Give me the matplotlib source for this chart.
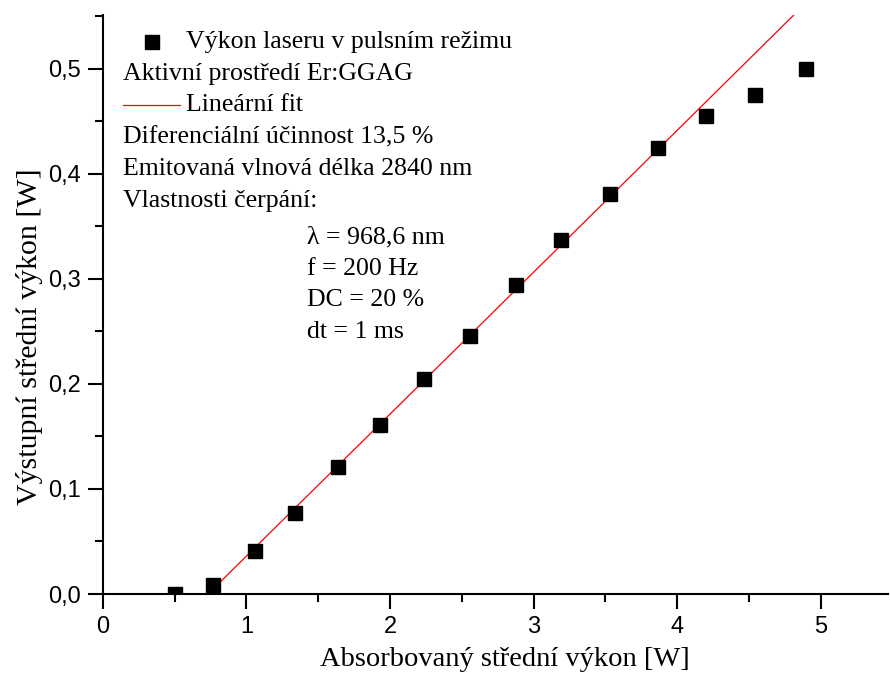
import matplotlib
matplotlib.use("Agg")
import matplotlib.pyplot as plt
from matplotlib.lines import Line2D
from matplotlib.ticker import MultipleLocator, FuncFormatter

# measured points: absorbed mean power vs. output mean power
absorbed = [0.50, 0.77, 1.06, 1.34, 1.64, 1.93, 2.24, 2.56, 2.88, 3.19, 3.53, 3.87, 4.20, 4.54, 4.90]
output = [0.000, 0.009, 0.041, 0.077, 0.121, 0.161, 0.205, 0.246, 0.294, 0.337, 0.381, 0.424, 0.455, 0.475, 0.500]

# linear fit: slope = differential efficiency, threshold where it crosses zero
slope = 0.135
threshold = 0.732
fit_x = [threshold, 5.0]
fit_y = [slope * (x - threshold) for x in fit_x]

info_lines = ["Aktivní prostředí Er:GGAG", "Diferenciální účinnost 13,5 %",
              "Emitovaná vlnová délka 2840 nm", "Vlastnosti čerpání:"]
pump_lines = ["λ = 968,6 nm", "f = 200 Hz", "DC = 20 %", "dt = 1 ms"]

serif = "Liberation Serif"
sans = "Liberation Sans"

fig = plt.figure(figsize=(8.9, 6.82), dpi=100)
ax = fig.add_axes([0.1157, 0.129, 0.8821, 0.849])

ax.plot(fit_x, fit_y, color="red", lw=0.9, zorder=2)
ax.plot(absorbed, output, ls="none", marker="s", ms=10, color="black", zorder=3)

ax.set_xlim(0, 5.47)
ax.set_ylim(0, 0.551)
ax.xaxis.set_major_locator(MultipleLocator(1))
ax.xaxis.set_minor_locator(MultipleLocator(0.5))
ax.yaxis.set_major_locator(MultipleLocator(0.1))
ax.yaxis.set_minor_locator(MultipleLocator(0.05))
ax.xaxis.set_major_formatter(FuncFormatter(lambda v, p: f"{v:.0f}"))
ax.yaxis.set_major_formatter(FuncFormatter(lambda v, p: f"{v:.1f}".replace(".", ",")))

for side in ["top", "right"]:
    ax.spines[side].set_visible(False)
for side in ["left", "bottom"]:
    ax.spines[side].set_linewidth(1.5)
ax.tick_params(which="major", direction="out", length=11, width=1.5, labelsize=17, pad=5)
ax.tick_params(which="minor", direction="out", length=6, width=1.5)
for lab in ax.get_xticklabels() + ax.get_yticklabels():
    lab.set_fontfamily(sans)

ax.set_xlabel("Absorbovaný střední výkon [W]", fontfamily=serif, fontsize=20.5)
ax.set_ylabel("Výstupní střední výkon [W]", fontfamily=serif, fontsize=21.5)
ax.xaxis.set_label_coords(0.512, -0.091)
ax.yaxis.set_label_coords(-0.077, 0.444)


def ax_xy(px, py):
    # pixel position inside the figure -> axes fraction
    return (px - 103) / 785, (594 - py) / 579


txt = dict(fontfamily=serif, fontsize=18.6, va="center", ha="left", transform=ax.transAxes)

# legend keys
mx, my = ax_xy(152, 42)
ax.add_line(Line2D([mx], [my], marker="s", ms=10, color="black", ls="none", transform=ax.transAxes))
lx0, ly = ax_xy(123, 105)
lx1, _ = ax_xy(180, 105)
ax.add_line(Line2D([lx0, lx1], [ly, ly], color="red", lw=0.9, transform=ax.transAxes))

ax.text(*ax_xy(186, 42), "Výkon laseru v pulsním režimu", **txt)
ax.text(*ax_xy(123, 74), info_lines[0], **txt)
ax.text(*ax_xy(186, 105), "Lineární fit", **txt)
for i, line in enumerate(info_lines[1:]):
    ax.text(*ax_xy(123, 137 + 32 * i), line, **txt)
for i, line in enumerate(pump_lines):
    ax.text(*ax_xy(307, 237 + 31.7 * i), line, **txt)

fig.savefig("out.png", dpi=100)
